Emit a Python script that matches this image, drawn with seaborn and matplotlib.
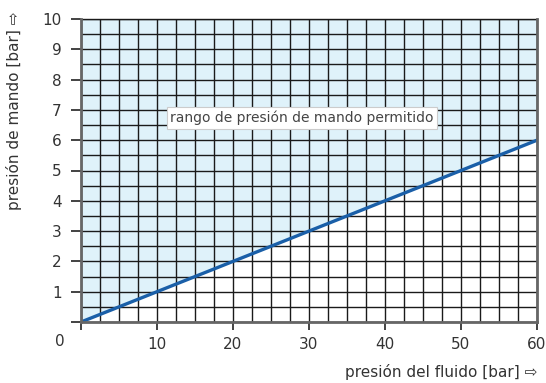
import matplotlib
matplotlib.use("Agg")
import matplotlib.pyplot as plt
import seaborn as sns
import numpy as np
import pandas as pd

# data
fluid_pressure = [0, 60]
control_pressure = [0, 6]
x_ticks = [0, 10, 20, 30, 40, 50, 60]
y_ticks = [0, 1, 2, 3, 4, 5, 6, 7, 8, 9, 10]
region_label = "rango de presión de mando permitido"
xlabel = "presión del fluido [bar] ⇨"
ylabel = "presión de mando [bar] ⇨"

sns.set_theme(style="white")
plt.rcParams['font.family'] = ['DejaVu Sans']

fig = plt.figure(figsize=(5.46, 3.83), dpi=100)
ax = fig.add_axes([81/546, 1-322/383, (537-81)/546, (322-19)/383])

df = pd.DataFrame({"x": fluid_pressure, "y": control_pressure})

ax.fill_between(df["x"], df["y"], 10, color="#dff2fa", zorder=0, linewidth=0)
sns.lineplot(data=df, x="x", y="y", ax=ax, color="#1a5fa8", linewidth=2.4, zorder=5)

ax.set_xlim(0, 60)
ax.set_ylim(0, 10)

ax.set_xticks(x_ticks)
ax.set_xticklabels([""] + [str(v) for v in x_ticks[1:]])
ax.set_yticks(y_ticks)
ax.set_yticklabels([""] + [str(v) for v in y_ticks[1:]])

# grid
ax.set_xticks(np.arange(0, 60.01, 2.5), minor=True)
ax.set_yticks(np.arange(0, 10.01, 0.5), minor=True)
ax.set_axisbelow(False)
ax.grid(which="both", color="#1a1a1a", linewidth=1.0)
ax.tick_params(which="minor", length=0)

ax.tick_params(axis="x", which="major", direction="out", length=6, width=1.2,
               color="#222222", labelsize=11, labelcolor="#333333", pad=5, bottom=True)
ax.tick_params(axis="y", which="major", direction="out", length=7, width=1.2,
               color="#222222", labelsize=11, labelcolor="#333333", pad=7, left=True)

for side in ["left", "bottom", "right"]:
    ax.spines[side].set_visible(True)
    ax.spines[side].set_color("#666666")
    ax.spines[side].set_linewidth(2)
    ax.spines[side].set_zorder(6)
ax.spines["top"].set_visible(True)
ax.spines["top"].set_color("#1a1a1a")
ax.spines["top"].set_linewidth(1)

ax.set_xlabel("")
ax.set_ylabel("")

fig.text(60/546, 1-341/383, "0", ha="center", va="center", fontsize=11, color="#333333")

ax.text(29.1, 6.73, region_label, ha="center", va="center", fontsize=10, color="#444444",
        zorder=7, bbox=dict(boxstyle="square,pad=0.25", facecolor="white", edgecolor="#cccccc", linewidth=0.8))

fig.text(537/546, 1-372/383, xlabel, ha="right", va="center", fontsize=11, color="#333333")
fig.text(14/546, 1-111/383, ylabel, ha="center", va="center", rotation=90, fontsize=11, color="#333333")

fig.savefig("out.png", dpi=100)
